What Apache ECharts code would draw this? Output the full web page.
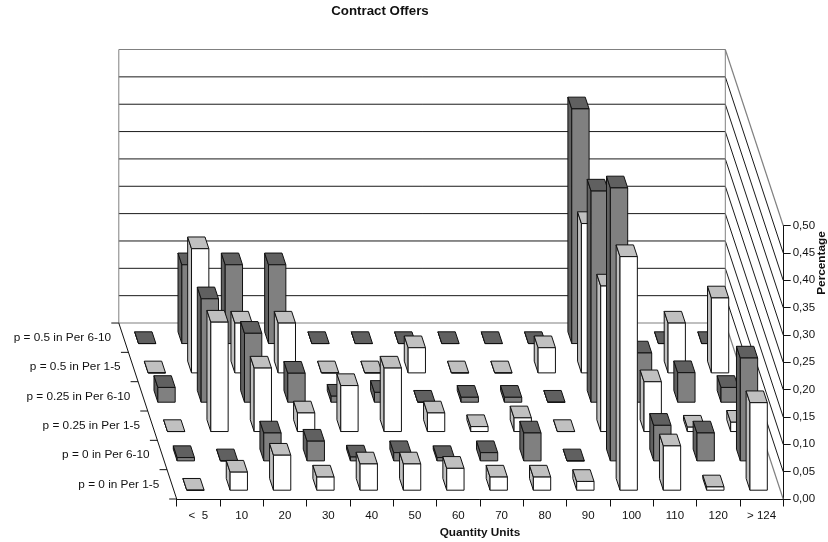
<!DOCTYPE html>
<html>
<head>
<meta charset="utf-8">
<style>html,body{margin:0;padding:0;background:#fff}#chart{width:828px;height:542px}</style>
<script src="https://cdn.jsdelivr.net/npm/echarts@6/dist/echarts.min.js"></script>
</head>
<body>
<div id="chart"></div>
<script>
// Category and tick labels
const quantityLabels = ['<  5', '10', '20', '30', '40', '50', '60', '70', '80', '90', '100', '110', '120', '> 124'];
const rowLabels = ['p = 0 in Per 1-5', 'p = 0 in Per 6-10', 'p = 0.25 in Per 1-5', 'p = 0.25 in Per 6-10', 'p = 0.5 in Per 1-5', 'p = 0.5 in Per 6-10'];
const percentTicks = [0, 0.05, 0.1, 0.15, 0.2, 0.25, 0.3, 0.35, 0.4, 0.45, 0.5];

// Share of offers per quantity, one list per treatment row (front row first)
const p0Per1to5 = [0, 0.033, 0.064, 0.024, 0.048, 0.048, 0.04, 0.024, 0.024, 0.016, 0.427, 0.081, 0.006, 0.16];
const p0Per6to10 = [0.006, 0, 0.051, 0.036, 0.007, 0.015, 0.006, 0.015, 0.051, 0, 0.499, 0.065, 0.051, 0.188];
const p25Per1to5 = [0, 0.2, 0.116, 0.034, 0.084, 0.116, 0.034, 0.009, 0.025, 0, 0.266, 0.091, 0.008, 0.017];
const p25Per6to10 = [0.027, 0.189, 0.126, 0.053, 0.011, 0.018, 0, 0.009, 0.009, 0, 0.386, 0.09, 0.054, 0.027];
const p50Per1to5 = [0, 0.227, 0.091, 0.091, 0, 0, 0.046, 0, 0, 0.046, 0.273, 0, 0.091, 0.137];
const p50Per6to10 = [0, 0.144, 0.144, 0.144, 0, 0, 0, 0, 0, 0, 0.429, 0, 0, 0];

const rows = [p0Per1to5, p0Per6to10, p25Per1to5, p25Per6to10, p50Per1to5, p50Per6to10];

// Oblique projection: one depth row moves a point this far on screen
const ROW_DX = -9.65;
const ROW_DY = -29.33;
const ROW_COUNT = rows.length;
const BAR_WIDTH = 0.4;
const BAR_DEPTH = 0.4;
const BAR_INSET = 0.3;
const FONT = '"Liberation Sans", Arial, sans-serif';

const whiteStyle = { front: '#ffffff', side: '#c0c0c0', top: '#c0c0c0' };
const greyStyle = { front: '#808080', side: '#606060', top: '#606060' };

function project(api, params, cat, depth, value) {
  const band = params.coordSys.width / quantityLabels.length;
  const p = api.coord([0, value]);
  return [params.coordSys.x + cat * band + depth * ROW_DX, p[1] + depth * ROW_DY];
}

function renderBar(row, colors) {
  return function (params, api) {
    const cat = api.value(0);
    const value = api.value(1);
    const x0 = cat + BAR_INSET;
    const x1 = x0 + BAR_WIDTH;
    const d0 = row + BAR_INSET;
    const d1 = d0 + BAR_DEPTH;
    const pt = (x, d, v) => project(api, params, x, d, v);
    const edge = { stroke: '#111', lineWidth: 1, lineJoin: 'miter' };
    const face = (points, fill) => ({
      type: 'polygon',
      shape: { points: points },
      style: Object.assign({ fill: fill }, edge)
    });
    return {
      type: 'group',
      children: [
        face([pt(x0, d0, 0), pt(x0, d0, value), pt(x0, d1, value), pt(x0, d1, 0)], colors.side),
        face([pt(x0, d0, value), pt(x1, d0, value), pt(x1, d1, value), pt(x0, d1, value)], colors.top),
        face([pt(x0, d0, 0), pt(x1, d0, 0), pt(x1, d0, value), pt(x0, d0, value)], colors.front)
      ]
    };
  };
}

// Back wall and right wall rules, one pair for each percentage tick
function renderWallRule(params, api) {
  const v = api.value(0);
  const n = quantityLabels.length;
  const a = project(api, params, 0, ROW_COUNT, v);
  const b = project(api, params, n, ROW_COUNT, v);
  const c = project(api, params, n, 0, v);
  const outer = v === 0 || v === 0.5;
  const stroke = outer ? '#808080' : '#1a1a1a';
  const w = outer ? 1.2 : 1;
  return {
    type: 'group',
    children: [
      { type: 'line', shape: { x1: a[0], y1: a[1], x2: b[0], y2: b[1] }, style: { stroke: stroke, lineWidth: w } },
      { type: 'line', shape: { x1: b[0], y1: b[1], x2: c[0], y2: c[1] }, style: { stroke: stroke, lineWidth: w } }
    ]
  };
}

// Wall corners and the slanted depth axis with its ticks
function renderFrame(params, api) {
  const n = quantityLabels.length;
  const line = (p, q, stroke) => ({
    type: 'line',
    shape: { x1: p[0], y1: p[1], x2: q[0], y2: q[1] },
    style: { stroke: stroke, lineWidth: 1 }
  });
  const children = [
    line(project(api, params, 0, ROW_COUNT, 0), project(api, params, 0, ROW_COUNT, 0.5), '#808080'),
    line(project(api, params, n, ROW_COUNT, 0), project(api, params, n, ROW_COUNT, 0.5), '#808080'),
    line(project(api, params, 0, 0, 0), project(api, params, 0, ROW_COUNT, 0), '#111')
  ];
  for (let r = 0; r <= ROW_COUNT; r++) {
    const p = project(api, params, 0, r, 0);
    children.push(line(p, [p[0] - 7.5, p[1]], '#111'));
  }
  return { type: 'group', children: children };
}

function renderRowLabel(params, api) {
  const r = api.value(0);
  const p = project(api, params, 0, r + 0.5, 0);
  return {
    type: 'text',
    style: {
      text: rowLabels[r],
      x: p[0] - 12.6,
      y: p[1],
      align: 'right',
      verticalAlign: 'middle',
      fill: '#111',
      font: '11.8px ' + FONT
    }
  };
}

const barSeries = rows.map((values, r) => ({
  type: 'custom',
  name: rowLabels[r],
  clip: false,
  silent: true,
  encode: { x: 0, y: 1 },
  data: values.map((v, c) => [c, v]),
  renderItem: renderBar(r, r % 2 === 0 ? whiteStyle : greyStyle)
})).reverse();

const chart = echarts.init(document.getElementById('chart'), null, { renderer: 'canvas' });
chart.setOption({
  animation: false,
  backgroundColor: '#ffffff',
  title: {
    text: 'Contract Offers',
    left: 375,
    top: 0,
    textAlign: 'center',
    textStyle: { fontFamily: FONT, fontWeight: 'bold', fontSize: 13.3, color: '#111' }
  },
  grid: { left: 176.7, top: 225.5, width: 606.5, height: 273.5, containLabel: false, outerBoundsMode: 'none' },
  xAxis: {
    type: 'category',
    data: quantityLabels,
    name: 'Quantity Units',
    nameLocation: 'middle',
    nameGap: 27,
    nameTextStyle: { fontFamily: FONT, fontWeight: 'bold', fontSize: 11.8, color: '#111' },
    axisLine: { show: true, lineStyle: { color: '#111', width: 1 } },
    axisTick: { show: true, length: 7.5, alignWithLabel: false, lineStyle: { color: '#111' } },
    axisLabel: { fontFamily: FONT, fontSize: 11.5, color: '#111', margin: 11, interval: 0 },
    splitLine: { show: false }
  },
  yAxis: {
    type: 'value',
    position: 'right',
    min: 0,
    max: 0.5,
    interval: 0.05,
    axisLine: { show: true, lineStyle: { color: '#111', width: 1 } },
    axisTick: { show: true, length: 7.5, lineStyle: { color: '#111' } },
    axisLabel: {
      fontFamily: FONT,
      fontSize: 11.5,
      color: '#111',
      margin: 9.5,
      formatter: v => v.toFixed(2).replace('.', ',')
    },
    splitLine: { show: false }
  },
  graphic: [{
    type: 'text',
    x: 822,
    y: 263,
    rotation: Math.PI / 2,
    style: {
      text: 'Percentage',
      align: 'center',
      verticalAlign: 'middle',
      fill: '#111',
      font: 'bold 11.8px ' + FONT
    }
  }],
  series: [
    {
      type: 'custom',
      clip: false,
      silent: true,
      encode: { y: 0 },
      data: percentTicks.map(v => [v]),
      renderItem: renderWallRule
    },
    {
      type: 'custom',
      clip: false,
      silent: true,
      data: [[0]],
      renderItem: renderFrame
    },
    {
      type: 'custom',
      clip: false,
      silent: true,
      data: rowLabels.map((_, i) => [i]),
      renderItem: renderRowLabel
    }
  ].concat(barSeries)
});
</script>
</body>
</html>
